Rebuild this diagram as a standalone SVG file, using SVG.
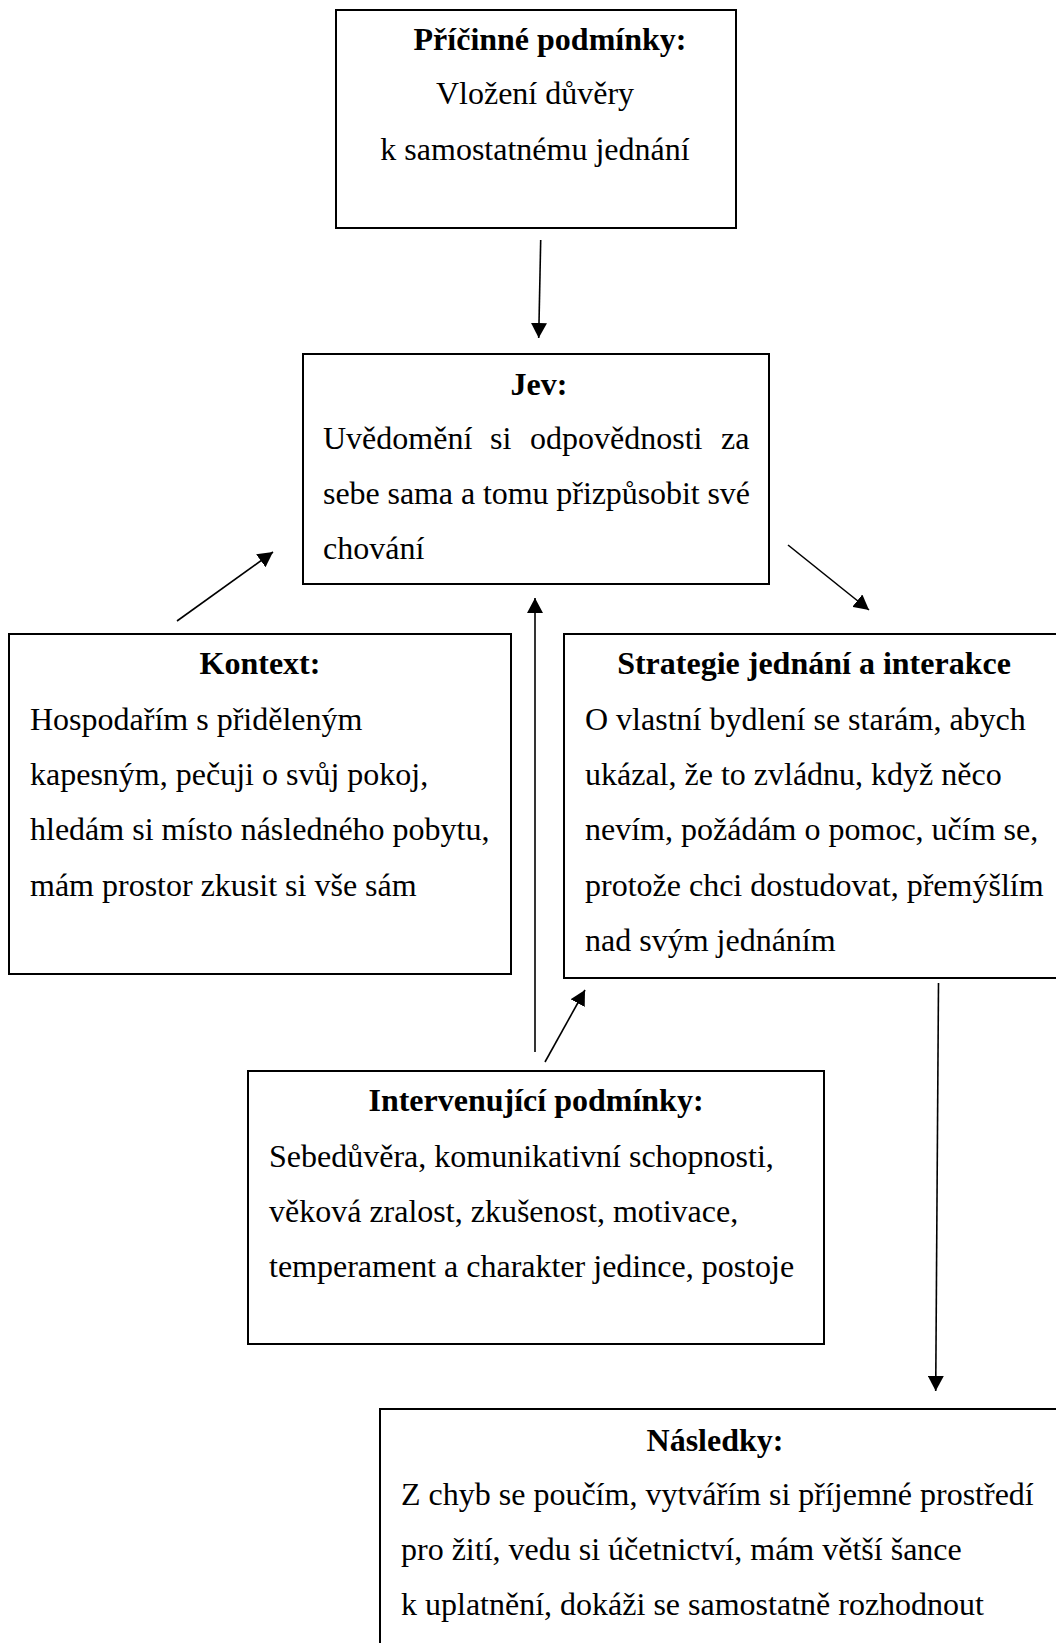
<svg xmlns="http://www.w3.org/2000/svg" width="1056" height="1643" viewBox="0 0 1056 1643">
<style>
.box{fill:#fff;stroke:#000;stroke-width:2}
.t{font-family:"Liberation Serif","Times New Roman",serif;font-size:32px;fill:#000}
.b{font-weight:bold}
.c{text-anchor:middle}
.ln{stroke:#000;stroke-width:1.6;fill:none}
</style>
<defs>
<marker id="ah" markerUnits="userSpaceOnUse" markerWidth="16" markerHeight="16" refX="15" refY="8" orient="auto">
<path d="M0,0 L15,8 L0,16 z" fill="#000"/>
</marker>
</defs>
<rect width="1056" height="1643" fill="#fff"/>
<g id="pricinne">
<rect class="box" x="336" y="10" width="400" height="218"/>
<text class="t b c" x="550" y="50">Příčinné podmínky:</text>
<text class="t c" x="535" y="104">Vložení důvěry</text>
<text class="t c" x="535" y="160">k samostatnému jednání</text>
</g>
<g id="jev">
<rect class="box" x="303" y="354" width="466" height="230"/>
<text class="t b c" x="539" y="395">Jev:</text>
<text class="t" y="449"><tspan x="323">Uvědomění</tspan><tspan x="490">si</tspan><tspan x="530">odpovědnosti</tspan><tspan x="721">za</tspan></text>
<text class="t" x="323" y="504" textLength="427" lengthAdjust="spacing">sebe sama a tomu přizpůsobit své</text>
<text class="t" x="323" y="559">chování</text>
</g>
<g id="kontext">
<rect class="box" x="9" y="634" width="502" height="340"/>
<text class="t b c" x="260" y="674">Kontext:</text>
<text class="t" x="30" y="730">Hospodařím s přiděleným</text>
<text class="t" x="30" y="785">kapesným, pečuji o svůj pokoj,</text>
<text class="t" x="30" y="840">hledám si místo následného pobytu,</text>
<text class="t" x="30" y="896">mám prostor zkusit si vše sám</text>
</g>
<g id="strategie">
<rect class="box" x="564" y="634" width="500" height="344"/>
<text class="t b c" x="814" y="674">Strategie jednání a interakce</text>
<text class="t" x="585" y="730">O vlastní bydlení se starám, abych</text>
<text class="t" x="585" y="785">ukázal, že to zvládnu, když něco</text>
<text class="t" x="585" y="840">nevím, požádám o pomoc, učím se,</text>
<text class="t" x="585" y="896">protože chci dostudovat, přemýšlím</text>
<text class="t" x="585" y="951">nad svým jednáním</text>
</g>
<g id="intervenujici">
<rect class="box" x="248" y="1071" width="576" height="273"/>
<text class="t b c" x="536" y="1111">Intervenující podmínky:</text>
<text class="t" x="269" y="1167">Sebedůvěra, komunikativní schopnosti,</text>
<text class="t" x="269" y="1222">věková zralost, zkušenost, motivace,</text>
<text class="t" x="269" y="1277">temperament a charakter jedince, postoje</text>
</g>
<g id="nasledky">
<rect class="box" x="380" y="1409" width="690" height="260"/>
<text class="t b c" x="715" y="1451">Následky:</text>
<text class="t" x="401" y="1505">Z chyb se poučím, vytvářím si příjemné prostředí</text>
<text class="t" x="401" y="1560">pro žití, vedu si účetnictví, mám větší šance</text>
<text class="t" x="401" y="1615">k uplatnění, dokáži se samostatně rozhodnout</text>
</g>
<g id="connectors">
<line class="ln" x1="540.7" y1="240" x2="538.7" y2="338" marker-end="url(#ah)"/>
<line class="ln" x1="177" y1="621" x2="273" y2="552" marker-end="url(#ah)"/>
<line class="ln" x1="788" y1="545" x2="869" y2="610" marker-end="url(#ah)"/>
<line class="ln" x1="535" y1="1052" x2="535" y2="598" marker-end="url(#ah)"/>
<line class="ln" x1="545" y1="1062" x2="585" y2="990" marker-end="url(#ah)"/>
<line class="ln" x1="938.5" y1="983" x2="935.7" y2="1391" marker-end="url(#ah)"/>
</g>
</svg>
